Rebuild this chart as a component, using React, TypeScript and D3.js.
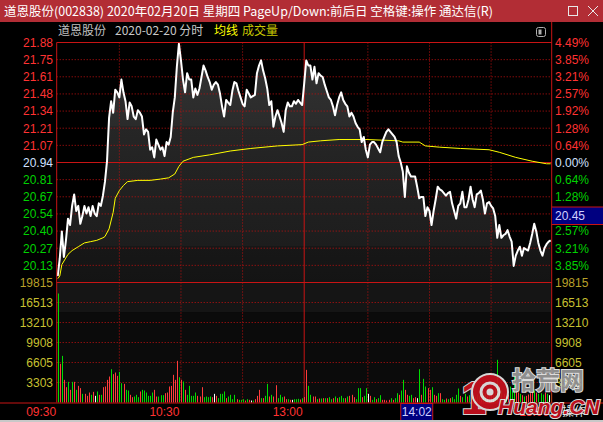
import React from 'react';
import * as d3 from 'd3';

const prevClose = 20.94;
const maxPct = 0.0449;
const volMax = 19815;

// minute prices, 09:30 .. 15:00 (241 points)
const prices = [
  20.05, 20.19, 20.40, 20.20, 20.33, 20.50, 20.45, 20.60, 20.69, 20.56,
  20.60, 20.46, 20.52, 20.60, 20.54, 20.59, 20.52, 20.60, 20.54, 20.52,
  20.62, 20.60, 20.68, 20.79, 20.95, 21.29, 21.42, 21.33, 21.51, 21.49,
  21.45, 21.59, 21.49, 21.42, 21.28, 21.41, 21.38, 21.30, 21.28, 21.35,
  21.33, 21.30, 21.16, 21.20, 21.18, 21.04, 21.06, 20.98, 21.12, 21.08,
  21.04, 21.06, 20.99, 21.10, 21.08, 21.14, 21.33, 21.45, 21.69, 21.87,
  21.74, 21.59, 21.49, 21.64, 21.59, 21.59, 21.45, 21.52, 21.47, 21.52,
  21.61, 21.70, 21.66, 21.61, 21.57, 21.51, 21.55, 21.57, 21.55, 21.48,
  21.38, 21.30, 21.43, 21.41, 21.39, 21.50, 21.57, 21.56, 21.50, 21.45,
  21.40, 21.38, 21.51, 21.48, 21.45, 21.46, 21.47, 21.64, 21.70, 21.74,
  21.66, 21.60, 21.52, 21.39, 21.42, 21.22, 21.30, 21.35, 21.30, 21.25,
  21.18, 21.35, 21.41, 21.38, 21.38, 21.42, 21.40, 21.43, 21.41, 21.39,
  21.56, 21.74, 21.70, 21.70, 21.59, 21.69, 21.56, 21.64, 21.62, 21.61,
  21.55, 21.50, 21.45, 21.43, 21.38, 21.31, 21.39, 21.45, 21.49, 21.43,
  21.40, 21.38, 21.30, 21.33, 21.30, 21.25, 21.22, 21.20, 21.10, 21.14,
  21.04, 20.98, 21.08, 21.10, 21.10, 21.08, 21.05, 21.02, 21.10, 21.14,
  21.18, 21.20, 21.18, 21.16, 21.14, 21.10, 20.99, 20.94, 20.87, 20.67,
  20.91, 20.86, 20.83, 20.83, 20.83, 20.75, 20.66, 20.67, 20.67, 20.52,
  20.59, 20.56, 20.45, 20.56, 20.65, 20.75, 20.73, 20.72, 20.70, 20.68,
  20.70, 20.71, 20.62, 20.56, 20.50, 20.60, 20.62, 20.71, 20.59, 20.59,
  20.65, 20.75, 20.65, 20.59, 20.69, 20.70, 20.72, 20.65, 20.54, 20.62,
  20.63, 20.60, 20.58, 20.52, 20.35, 20.45, 20.35, 20.37, 20.38, 20.41,
  20.36, 20.32, 20.13, 20.21, 20.25, 20.28, 20.21, 20.27, 20.26, 20.25,
  20.31, 20.38, 20.46, 20.40, 20.31, 20.25, 20.21, 20.27, 20.30, 20.32,
  20.33,
];

// average price line, read at these minutes
const avgIdx = [0, 1, 2, 5, 7, 10, 13, 16, 19, 22, 23, 25, 27, 28, 30, 32, 34, 39, 45, 50, 54, 57, 59, 61, 66, 74, 84, 94, 107, 119, 122, 128, 137, 150, 166, 168, 176, 179, 186, 196, 210, 215, 223, 231, 238, 240];
const avgVal = [20.03, 20.05, 20.14, 20.22, 20.25, 20.28, 20.31, 20.32, 20.33, 20.35, 20.36, 20.42, 20.55, 20.66, 20.72, 20.76, 20.79, 20.80, 20.80, 20.81, 20.82, 20.85, 20.91, 20.95, 20.98, 21.00, 21.03, 21.05, 21.07, 21.08, 21.10, 21.11, 21.12, 21.12, 21.11, 21.10, 21.10, 21.07, 21.06, 21.05, 21.04, 21.02, 20.98, 20.95, 20.93, 20.93];

// minute volumes
const volumes = [
  18000, 6390, 7700, 3740, 2530, 3410, 2090, 3410, 3410, 2090, 2750, 2370, 1430, 1430, 1100, 1650, 1270, 1760,
  1100, 1820, 1270, 1270, 2530, 2640, 3740, 4290, 5500, 4680, 4950, 4400, 5060, 3190, 3080, 2090, 1980, 1270, 880, 990, 1270, 880, 1820, 2090, 1980, 1650, 1100, 1100, 1650, 2090, 990, 990, 1210, 1210,
  1540, 1650, 2640, 2750, 4570, 3740, 6880, 4180, 3740, 3470, 2090, 1270, 2750, 1100, 1100, 1650, 1100, 990, 2530, 880, 990, 880, 990, 880, 1430, 1100, 720, 1430, 1430, 1820, 720, 990, 1270, 550, 1270, 550, 440, 440,
  550, 330, 550, 440, 330, 330, 550, 1100, 2090, 720, 720, 1100, 3080, 990, 1270, 990, 2860, 720, 1270,
  880, 990, 550, 550, 440, 440, 550, 550, 600, 500, 700, 900,
  5390, 2750, 1270, 990, 990, 550, 660, 660, 715, 715, 715, 880, 550, 715, 990, 715, 880, 1100, 715, 715, 990, 1100, 1270, 880, 550, 2370, 2370, 880, 1100, 2370, 1430, 1100, 440, 880, 550, 715, 1210, 440,
  440, 330, 440, 715, 440, 715, 1540, 1270, 1980, 3740, 2090, 1270, 1100, 1270, 715, 880, 715, 5500, 1270, 3910, 2640, 2370, 2090, 2530, 1270, 1100, 1540, 1540, 550, 440, 660, 550, 715, 880, 550, 1270, 2310,
  1100, 880, 1430, 990, 1210, 1650, 1100, 880, 1320, 990, 1100, 1760, 1540, 1210, 990, 1320, 1650, 2200, 7050, 2640, 1980, 1430, 1100, 1320, 2640, 1980, 4290, 3470, 1650, 1430, 1210, 990, 1100, 1320, 1540, 1760, 1980, 1650, 1430, 1540, 1320, 1650, 1430, 1210, 1540,
];
// bar colour per minute: r = up, g = down, w = flat
const volDir = (
  'grgrrgrgrgrrgrrrgr' + 'wgrgrrrrgrrrggrggrrgggrggggggrrggg' + 'rrrrrrrgrgrgggggrrrggggrwrggggrggggrgg' +
  'grgrwgrrrgrggrgrrgg' + 'grrgrwgg' + 'grgr' +
  'rggrrgrg' + 'rgrggrgrgggrgrrrgggrggwrggrggr' + 'rrrgrggrggrrggrrwgrggrrgrrgrggrgrgggg' +
  'rggrgrgrggrggrgrgggrgrgrgggrrgrgrrrrgrgggrgwg'
).split('');

const priceTicks = ['21.88', '21.75', '21.61', '21.48', '21.34', '21.21', '21.07', '20.94', '20.81', '20.67', '20.54', '20.40', '20.27', '20.13'];
const pctTicks = ['4.49%', '3.85%', '3.21%', '2.57%', '1.92%', '1.28%', '0.64%', '0.00%', '0.64%', '1.28%', '1.92%', '2.57%', '3.21%', '3.85%'];
const volTicks = ['19815', '16513', '13210', '9908', '6605', '3303'];
const gridIdx = [30, 60, 90, 120, 151, 181, 211];
const timeIdx = [0, 60, 120, 240];
const timeText = ['09:30', '10:30', '13:00', '15:00'];
const cursorIdx = 182;
const cursorTime = '14:02';
const cursorPrice = '20.45';

const NUM = '"Liberation Sans", Arial, sans-serif';
const CJK = '"Noto Sans CJK SC", "Noto Sans", sans-serif';
const RED = '#ff3232';
const GREEN = '#00d200';
const GRID = '#c01010';
const SOLID = '#c81414';

export default function App() {
  const L = 56.7, R = 551.7, T = 42.5, M = 282.5, B = 402.5;
  const xs = d3.scaleLinear().domain([-0.5, 240.5]).range([L, R]);
  const yP = d3.scaleLinear().domain([prevClose * (1 - maxPct), prevClose * (1 + maxPct)]).range([M, T]);
  const yV = d3.scaleLinear().domain([0, volMax]).range([B, M]);
  const tickY = (k: number) => yP(prevClose * (1 + ((7 - k) * maxPct) / 7));

  const line = d3.line<number>().x((_, i) => xs(i)).y((d) => yP(d));
  const area = d3.area<number>().x((_, i) => xs(i)).y0(M).y1((d) => yP(d));
  const avgLine = d3.line<number>().x((d) => xs(d)).y((_, i) => yP(avgVal[i]));

  const cx = xs(cursorIdx) + 1.2;

  return (
    <div style={{ position: 'fixed', left: 0, top: 0, width: 603, height: 422, background: '#000' }}>
      <svg width={603} height={422} style={{ display: 'block' }}>
        <defs>
          <linearGradient id="fillG" gradientUnits="userSpaceOnUse" x1={0} y1={T} x2={0} y2={M}>
            <stop offset="0" stopColor="#333333" />
            <stop offset="0.35" stopColor="#2b2b2b" />
            <stop offset="0.35" stopColor="#262626" />
            <stop offset="0.85" stopColor="#1d1d1d" />
            <stop offset="0.85" stopColor="#171717" />
            <stop offset="1" stopColor="#141414" />
          </linearGradient>
        </defs>
        <rect x={0} y={0} width={603} height={422} fill="#000" />
        {/* title bar */}
        <rect x={0} y={0} width={603} height={22} fill="#b22d35" />
        <text x={4} y={16} fill="#fff" fontSize={12.5} fontFamily={CJK}>
          道恩股份(002838) 2020年02月20日 星期四 PageUp/Down:前后日 空格键:操作 通达信(R)
        </text>
        <rect x={568.5} y={6.5} width={9} height={9} fill="none" stroke="#e8e8e8" strokeWidth={1} />
        <path d="M588,6 L598,16 M598,6 L588,16" stroke="#e8e8e8" strokeWidth={1} />

        {/* header */}
        <text y={35} fontSize={12} fontFamily={CJK}>
          <tspan x={58} fill="#c0c0c0">道恩股份</tspan>
          <tspan x={115} fill="#c8c8c8">2020-02-20 分时</tspan>
          <tspan x={214} fill="#ffff00">均线</tspan>
          <tspan x={242} fill="#c8c800">成交量</tspan>
        </text>
        <rect x={536.5} y={27.5} width={9} height={9} rx={2} fill="none" stroke="#b0b0b0" />
        <rect x={538.5} y={29.5} width={3} height={5} fill="#b0b0b0" />

        {/* panel backgrounds */}
        <rect x={L} y={M} width={R - L} height={30} fill="#151515" />
        <rect x={L} y={M + 30} width={R - L} height={B - M - 30} fill="#0b0b0b" />

        {/* price area */}
        <path d={area(prices) || ''} fill="url(#fillG)" />

        {/* horizontal grid */}
        {priceTicks.map((_, k) =>
          k === 0 || k === 7 ? null : (
            <line key={'hp' + k} x1={L} x2={R} y1={tickY(k)} y2={tickY(k)} stroke={GRID} strokeDasharray="1,2" />
          )
        )}
        {volTicks.map((_, k) =>
          k === 0 ? null : (
            <line key={'hv' + k} x1={L} x2={R} y1={yV((volMax * (6 - k)) / 6)} y2={yV((volMax * (6 - k)) / 6)} stroke={GRID} strokeDasharray="1,2" />
          )
        )}
        {/* vertical grid */}
        {gridIdx.map((g) =>
          g === 120 ? null : (
            <line key={'vg' + g} x1={xs(g)} x2={xs(g)} y1={T} y2={B} stroke={GRID} strokeDasharray="1,2" />
          )
        )}
        <line x1={xs(120)} x2={xs(120)} y1={T} y2={B} stroke={SOLID} />
        <line x1={L} x2={R} y1={tickY(7)} y2={tickY(7)} stroke={SOLID} />

        {/* volume bars */}
        {volumes.map((v, i) => (
          <rect
            key={'v' + i}
            x={Math.floor(xs(i) + 0.6)}
            y={yV(v)}
            width={1}
            height={B - yV(v)}
            fill={volDir[i] === 'r' ? '#ff3c3c' : volDir[i] === 'g' ? '#00dc00' : '#ffffff'}
          />
        ))}

        {/* lines */}
        <path d={avgLine(avgIdx) || ''} fill="none" stroke="#ffff00" strokeWidth={1} />
        <path d={line(prices) || ''} fill="none" stroke="#ffffff" strokeWidth={2} strokeLinejoin="round" />

        {/* borders */}
        <line x1={L} x2={R} y1={T} y2={T} stroke={SOLID} />
        <line x1={L} x2={R} y1={M} y2={M} stroke={SOLID} />
        <line x1={L} x2={L} y1={T} y2={B} stroke={SOLID} />
        <line x1={R} x2={R} y1={22} y2={B} stroke={SOLID} />
        <line x1={0} x2={603} y1={B + 0.5} y2={B + 0.5} stroke={SOLID} />

        {/* left labels */}
        {priceTicks.map((t, k) => (
          <text key={'lp' + k} x={53} y={tickY(k)} dy="0.36em" textAnchor="end" fontSize={12} fontFamily={NUM}
            fill={k < 7 ? RED : k === 7 ? '#d0e0ff' : GREEN}>{t}</text>
        ))}
        {pctTicks.map((t, k) => (
          <text key={'rp' + k} x={555} y={tickY(k)} dy="0.36em" fontSize={12} fontFamily={NUM}
            fill={k < 7 ? RED : k === 7 ? '#d0e0ff' : GREEN}>{t}</text>
        ))}
        {volTicks.map((t, k) => (
          <g key={'vt' + k}>
            <text x={53} y={yV((volMax * (6 - k)) / 6)} dy="0.36em" textAnchor="end" fontSize={12} fontFamily={NUM}
              fill={k === 0 ? '#b8a028' : '#c8c030'}>{t}</text>
            <text x={555} y={yV((volMax * (6 - k)) / 6)} dy="0.36em" fontSize={12} fontFamily={NUM}
              fill={k === 0 ? '#b8a028' : '#c8c030'}>{t}</text>
          </g>
        ))}

        {/* cursor price box */}
        <rect x={R + 0.5} y={207} width={603 - R} height={17.5} fill="#000080" />
        <line x1={R} x2={603} y1={207} y2={207} stroke={SOLID} />
        <line x1={R} x2={603} y1={224.5} y2={224.5} stroke={SOLID} />
        <text x={555} y={216} dy="0.36em" fontSize={12} fontFamily={NUM} fill="#d0d0ff">{cursorPrice}</text>

        {/* time labels */}
        {timeIdx.map((t, k) => (
          <text key={'tl' + k} x={xs(t) - 1.5} y={416} textAnchor="end" fontSize={12} fontFamily={NUM} fill={RED}>{timeText[k]}</text>
        ))}
        <rect x={cx - 32} y={403.5} width={32} height={17} fill="#000080" stroke={SOLID} />
        <text x={cx - 16} y={416} textAnchor="middle" fontSize={12} fontFamily={NUM} fill="#d0d0ff">{cursorTime}</text>
        <text x={562} y={416} fontSize={12} fontFamily={CJK} fill="#e0e0e0">操作</text>
        <rect x={0} y={420} width={603} height={2} fill="#c8c8c8" />

        {/* watermark */}
        <g opacity={0.92}>
          <text x={461} y={414} fontSize={46} fontWeight="bold" fontFamily={NUM} fill="#c8101e" stroke="#e8e8e8" strokeWidth={2} paintOrder="stroke">1</text>
          <circle cx={490} cy={392} r={18} fill="#c8101e" stroke="#e8e8e8" strokeWidth={2} />
          <circle cx={490} cy={392} r={9} fill="none" stroke="#e8e8e8" strokeWidth={3} />
          <circle cx={490} cy={392} r={3.5} fill="#e8e8e8" />
          <text x={512} y={389} fontSize={24} fontWeight="bold" fontFamily={CJK} fill="#9a9a9a" stroke="#eeeeee" strokeWidth={2} paintOrder="stroke">拾荒网</text>
          <text x={498} y={414} fontSize={21} fontWeight="bold" fontStyle="italic" fontFamily={NUM} fill="#c8101e" stroke="#eeeeee" strokeWidth={2} paintOrder="stroke">Huang.CN</text>
        </g>
      </svg>
    </div>
  );
}
